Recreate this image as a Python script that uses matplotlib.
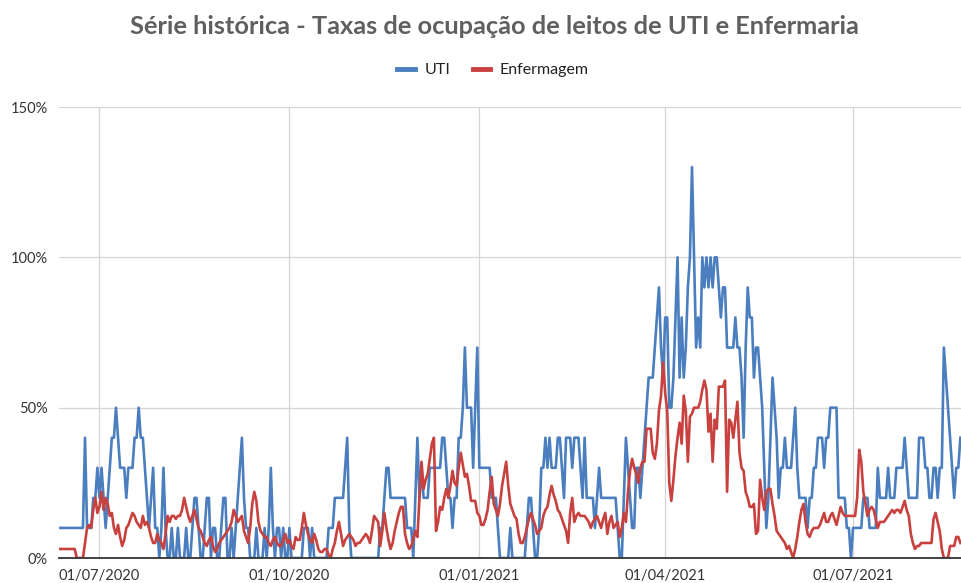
import numpy as np
import pandas as pd
import matplotlib
matplotlib.use('Agg')
import matplotlib.pyplot as plt
from matplotlib.lines import Line2D

# daily series starting 12/06/2020 (values in %)
start_date = '2020-06-12'

uti = [
    10, 10, 10, 10, 10, 10, 10, 10, 10, 10,
    10, 10, 40, 10, 10, 10, 20, 20, 30, 20,
    30, 20, 10, 20, 30, 40, 40, 50, 40, 30,
    30, 30, 20, 30, 30, 30, 40, 40, 50, 40,
    40, 30, 20, 10, 20, 30, 10, 10, 0, 10,
    30, 10, 0, 0, 10, 0, 0, 10, 0, 0,
    0, 10, 0, 0, 10, 20, 20, 10, 0, 0,
    10, 20, 20, 0, 10, 10, 0, 0, 10, 20,
    20, 0, 0, 10, 0, 10, 20, 30, 40, 20,
    10, 10, 0, 0, 0, 10, 0, 0, 0, 10,
    0, 10, 30, 10, 0, 10, 10, 0, 10, 0,
    0, 10, 0, 0, 0, 0, 0, 0, 10, 10,
    10, 0, 10, 0, 0, 0, 0, 0, 0, 0,
    10, 10, 10, 20, 20, 20, 20, 20, 30, 40,
    10, 0, 0, 0, 0, 0, 0, 0, 0, 0,
    0, 0, 0, 0, 0, 10, 10, 20, 30, 30,
    20, 20, 20, 20, 20, 20, 20, 20, 10, 10,
    10, 0, 20, 40, 20, 30, 20, 20, 20, 30,
    30, 30, 30, 30, 30, 40, 40, 30, 20, 20,
    10, 20, 20, 40, 40, 50, 70, 50, 50, 50,
    30, 50, 70, 30, 30, 30, 30, 30, 30, 20,
    20, 20, 10, 0, 0, 0, 0, 0, 10, 0,
    0, 0, 0, 0, 0, 0, 10, 20, 20, 10,
    0, 0, 10, 30, 30, 40, 30, 40, 30, 30,
    30, 40, 40, 30, 20, 40, 40, 40, 30, 40,
    40, 40, 30, 20, 40, 20, 20, 20, 20, 10,
    20, 30, 20, 20, 20, 20, 20, 20, 20, 20,
    10, 0, 0, 20, 40, 30, 20, 10, 10, 30,
    30, 20, 30, 40, 50, 60, 60, 60, 70, 80,
    90, 70, 60, 80, 80, 50, 50, 60, 80, 100,
    60, 80, 60, 70, 90, 100, 130, 100, 70, 80,
    70, 100, 90, 100, 90, 100, 90, 100, 100, 90,
    80, 90, 90, 70, 70, 70, 70, 80, 70, 70,
    60, 40, 70, 90, 80, 80, 60, 70, 70, 60,
    50, 30, 10, 20, 40, 60, 50, 40, 20, 30,
    30, 40, 30, 30, 30, 40, 50, 30, 20, 20,
    20, 20, 10, 20, 20, 30, 30, 40, 40, 40,
    30, 40, 40, 50, 50, 50, 50, 20, 20, 20,
    20, 10, 10, 0, 10, 10, 10, 10, 10, 20,
    20, 20, 10, 10, 10, 10, 30, 20, 20, 20,
    20, 30, 20, 20, 20, 30, 30, 30, 30, 40,
    30, 20, 20, 20, 20, 20, 40, 40, 40, 30,
    30, 20, 20, 30, 30, 20, 30, 30, 70, 60,
    50, 40, 30, 20, 30, 30, 40,
]

enfermagem = [
    3, 3, 3, 3, 3, 3, 3, 3, 0, 0,
    0, 0, 5, 10, 11, 10, 16, 20, 15, 17,
    22, 16, 20, 18, 14, 15, 10, 8, 11, 7,
    4, 6, 10, 11, 13, 15, 14, 12, 11, 10,
    14, 11, 12, 10, 7, 5, 5, 8, 6, 5,
    3, 8, 14, 12, 14, 14, 13, 14, 14, 16,
    20, 17, 14, 12, 14, 16, 13, 10, 9, 7,
    5, 4, 6, 7, 4, 2, 3, 5, 6, 7,
    8, 9, 10, 12, 16, 14, 12, 13, 14, 9,
    7, 5, 10, 18, 22, 19, 12, 9, 8, 7,
    7, 5, 4, 6, 7, 5, 4, 4, 6, 8,
    5, 6, 4, 3, 7, 6, 6, 10, 15, 11,
    8, 6, 5, 8, 6, 3, 2, 2, 3, 3,
    1, 0, 3, 5, 9, 12, 8, 4, 6, 7,
    8, 7, 6, 4, 5, 5, 6, 7, 8, 7,
    5, 9, 14, 13, 12, 4, 9, 15, 10, 6,
    3, 5, 9, 12, 15, 17, 17, 8, 5, 3,
    4, 6, 9, 7, 20, 32, 23, 26, 28, 33,
    38, 40, 9, 12, 17, 16, 20, 23, 20, 24,
    29, 25, 24, 30, 35, 31, 27, 28, 24, 19,
    19, 19, 15, 14, 11, 11, 13, 16, 22, 27,
    18, 16, 14, 18, 24, 28, 32, 24, 18, 16,
    14, 13, 8, 5, 5, 7, 10, 13, 15, 13,
    11, 8, 9, 10, 14, 16, 17, 21, 24, 21,
    19, 16, 15, 13, 11, 9, 5, 15, 20, 12,
    14, 15, 14, 14, 14, 13, 12, 10, 12, 13,
    14, 12, 10, 13, 15, 8, 12, 14, 10, 11,
    12, 7, 10, 15, 12, 22, 29, 33, 30, 28,
    25, 30, 32, 32, 43, 43, 43, 35, 33, 38,
    49, 54, 65, 55, 49, 25, 19, 26, 34, 40,
    45, 38, 54, 49, 32, 47, 48, 50, 50, 50,
    52, 56, 59, 56, 42, 48, 32, 46, 43, 57,
    57, 57, 59, 22, 46, 45, 40, 46, 52, 35,
    30, 29, 22, 20, 17, 17, 18, 8, 9, 26,
    20, 16, 22, 23, 23, 18, 14, 9, 8, 7,
    6, 5, 3, 4, 2, 0, 3, 7, 12, 16,
    18, 12, 8, 7, 9, 10, 10, 10, 11, 13,
    15, 12, 12, 14, 15, 13, 11, 14, 17, 15,
    14, 14, 14, 14, 14, 14, 20, 36, 32, 22,
    18, 14, 16, 17, 16, 13, 10, 12, 12, 12,
    13, 14, 15, 16, 15, 16, 16, 15, 17, 19,
    16, 14, 8, 5, 3, 4, 4, 5, 5, 5,
    5, 5, 5, 13, 15, 12, 9, 3, 0, 0,
    0, 4, 4, 4, 7, 7, 5,
]

tick_dates = ['2020-07-01', '2020-10-01', '2021-01-01', '2021-04-01', '2021-07-01']
tick_labels = ['01/07/2020', '01/10/2020', '01/01/2021', '01/04/2021', '01/07/2021']
y_ticks = [0, 0.5, 1.0, 1.5]
y_labels = ['0%', '50%', '100%', '150%']

blue = '#4a7ebf'
red = '#c8413f'

plt.rcParams['font.family'] = ['Lato', 'DejaVu Sans']

dates = pd.date_range(start_date, periods=len(uti), freq='D')

fig = plt.figure(figsize=(9.61, 5.83), dpi=100)
ax = fig.add_axes([59 / 961, 25 / 583, 1 - 59 / 961, 451 / 583])

ax.plot(dates, np.array(uti) / 100, color=blue, lw=1.9, zorder=3)
ax.plot(dates, np.array(enfermagem) / 100, color=red, lw=1.9, zorder=4)

x0 = pd.Timestamp(start_date) - pd.Timedelta(days=0.6)
ax.set_xlim(x0, x0 + pd.Timedelta(days=436.9))
ax.set_ylim(0, 1.5)

ax.set_xticks(pd.to_datetime(tick_dates))
ax.set_xticklabels(tick_labels)
ax.set_yticks(y_ticks)
ax.set_yticklabels(y_labels)
ax.tick_params(axis='both', length=0, labelsize=10.5, colors='#333333')
ax.tick_params(axis='x', pad=8)
ax.tick_params(axis='y', pad=8)

ax.grid(True, color='#d4d4d4', lw=0.9, zorder=0)
ax.set_axisbelow(True)
for s in ax.spines.values():
    s.set_visible(False)
ax.axhline(0, color='#333333', lw=1.3, zorder=5, clip_on=False)

fig.text(494 / 961, 1 - 27 / 583, 'Série histórica - Taxas de ocupação de leitos de UTI e Enfermaria',
         ha='center', va='center', fontsize=18.3, fontweight='bold', color='#5f5f5f')

handles = [Line2D([], [], color=blue, lw=3.5), Line2D([], [], color=red, lw=3.5)]
fig.legend(handles, ['UTI', 'Enfermagem'], loc='center', bbox_to_anchor=(493 / 961, 1 - 70 / 583),
           ncol=2, frameon=False, fontsize=11.5, handlelength=1.1, handletextpad=0.6,
           columnspacing=1.4, labelcolor='#222222')

fig.savefig('out.png', dpi=100)
